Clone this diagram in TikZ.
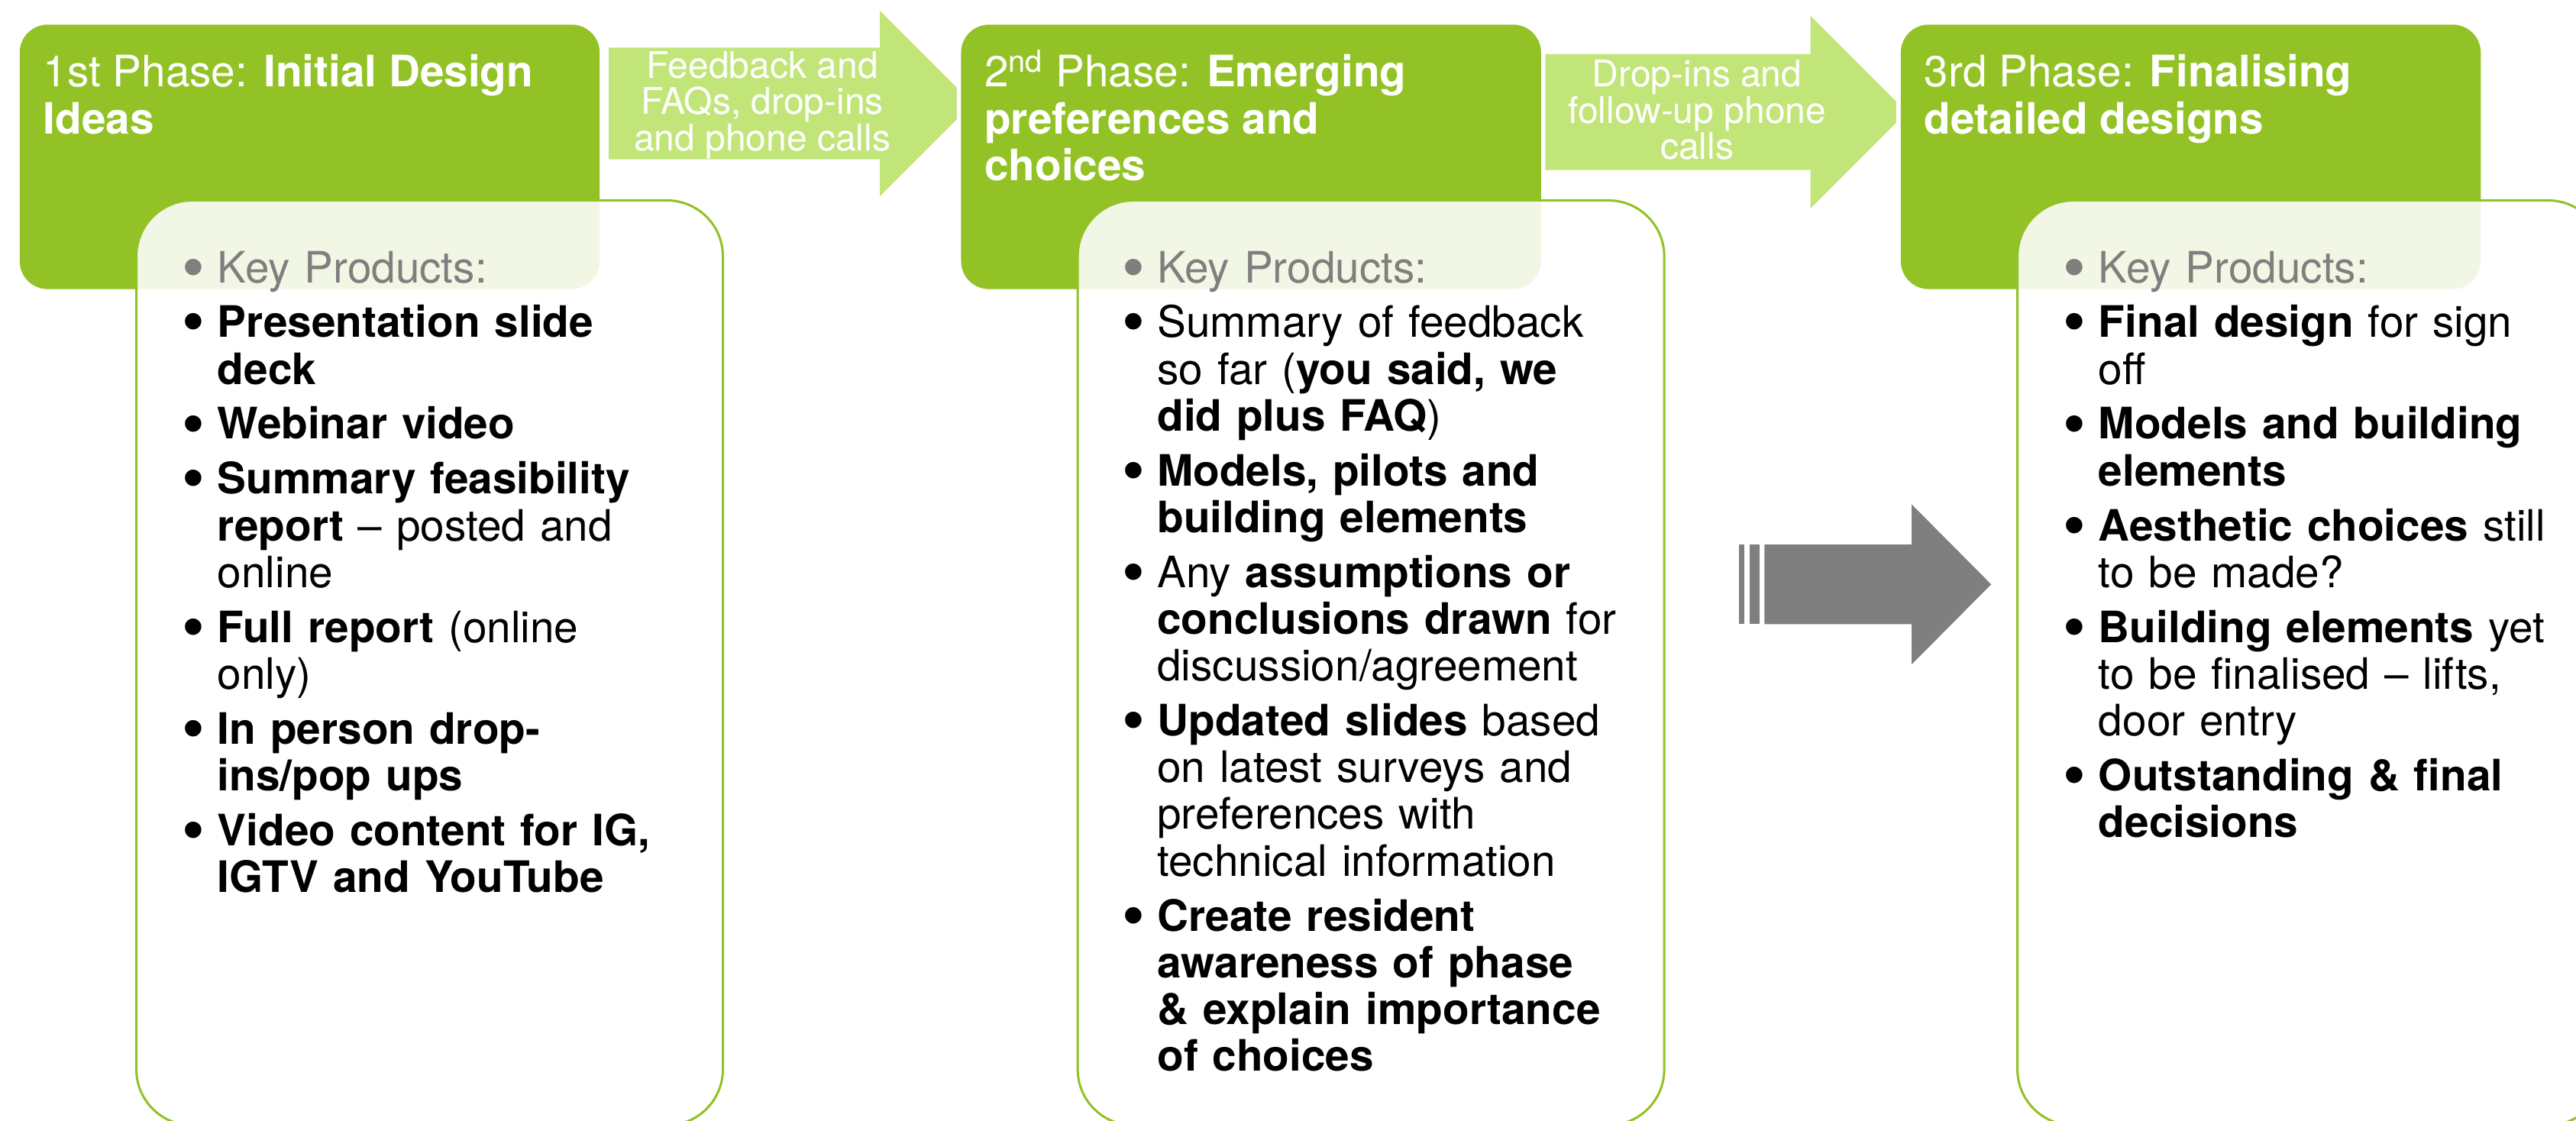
\documentclass[tikz,border=0pt]{standalone}
\usepackage{fontspec}
\setmainfont{TeX Gyre Heros}
\newfontfamily\bulletfont{Liberation Sans}
\usetikzlibrary{calc}
\definecolor{phasegreen}{RGB}{146,194,38}
\definecolor{linkgreen}{RGB}{194,229,122}
\definecolor{keygrey}{RGB}{127,127,127}
% light green link arrow: left, head base, top, bottom, head overhang
\newcommand{\createlink}[5]{\fill[linkgreen] (#1,#3) -- (#2,#3) -- (#2,{#3-#5}) -- ({#2+(#4-#3)/2+#5},{(#3+#4)/2}) -- (#2,{#4+#5}) -- (#2,#4) -- (#1,#4) -- cycle;}
% phase header and product box
\newcommand{\createphase}[1]{\path[preaction={draw=white,line width=3pt},fill=phasegreen,rounded corners=0.34cm] (#1,15) rectangle ({#1+353},176); \filldraw[fill=white,fill opacity=0.88,draw=phasegreen,line width=0.8pt,rounded corners=0.68cm] ({#1+71},122) rectangle ({#1+428},685);}
\newcommand{\itm}[2][black]{\hangindent=12pt\hangafter=1\noindent{\color{#1}\makebox[12pt][l]{\raisebox{-1.6pt}{\bulletfont\fontsize{21}{0}\selectfont\textbullet}}#2}\par}

\begin{document}
\begin{tikzpicture}[x=0.02cm,y=-0.02cm,
    phasetitle/.style={anchor=north west,inner sep=0pt,align=left,text=white,font=\fontsize{15}{16.2}\selectfont},
    producttext/.style={anchor=north west,inner sep=0pt,text width=8cm,align=left,font=\fontsize{15}{16.2}\selectfont,execute at begin node=\setlength{\parskip}{2.8pt}},
    linktext/.style={inner sep=0pt,align=center,text=white,font=\fontsize{12.7}{12.6}\selectfont}]
    \useasboundingbox (0,0) rectangle (1568,682);
    \fill[white] (0,0) rectangle (1568,682);
    \clip (0,0) rectangle (1568,682);
    %links
    \createlink{370.5}{535.6}{29}{97}{22.5}
    \createlink{940}{1102}{33}{103.5}{23.4}
    %phases
    \createphase{12}
    \createphase{585}
    \createphase{1157}
    %grey arrow
    \foreach \a/\b in {1058.6/1061.8, 1064.8/1071} {
        \fill[keygrey] (\a,331.5) rectangle (\b,380);}
    \fill[keygrey] (1074,331.5) -- (1163.6,331.5) -- (1163.6,307) -- (1212,355.75) -- (1163.6,404.5) -- (1163.6,380) -- (1074,380) -- cycle;

    \node[phasetitle] (t1) at (26,33) {1st Phase: \textbf{Initial Design}\\\textbf{Ideas}};
    \node[phasetitle] (t2) at (599,33) {2\smash{\textsuperscript{nd}} Phase: \textbf{Emerging}\\\textbf{preferences and}\\\textbf{choices}};
    \node[phasetitle] (t3) at (1171,33) {3rd Phase: \textbf{Finalising}\\\textbf{detailed designs}};

    \node[linktext] (l1) at (464,64) {Feedback and\\FAQs, drop-ins\\and phone calls};
    \node[linktext] (l2) at (1033,67) {Drop-ins and\\follow-up phone\\calls};

    \node[producttext] (p1) at (111,152.5) {%
        \itm[keygrey]{Key Products:}
        \itm{\textbf{Presentation slide\newline deck}}
        \itm{\textbf{Webinar video}}
        \itm{\textbf{Summary feasibility\newline report} -- posted and\newline online}
        \itm{\textbf{Full report} (online\newline only)}
        \itm{\textbf{In person drop-\newline ins/pop ups}}
        \itm{\textbf{Video content for IG,\newline IGTV and YouTube}}};
    \node[producttext] (p2) at (683,152.5) {%
        \itm[keygrey]{Key Products:}
        \itm{Summary of feedback\newline so far (\textbf{you said, we\newline did plus FAQ})}
        \itm{\textbf{Models, pilots and\newline building elements}}
        \itm{Any \textbf{assumptions or\newline conclusions drawn} for\newline discussion/agreement}
        \itm{\textbf{Updated slides} based\newline on latest surveys and\newline preferences with\newline technical information}
        \itm{\textbf{Create resident\newline awareness of phase\newline \& explain importance\newline of choices}}};
    \node[producttext] (p3) at (1256,152.5) {%
        \itm[keygrey]{Key Products:}
        \itm{\textbf{Final design} for sign\newline off}
        \itm{\textbf{Models and building\newline elements}}
        \itm{\textbf{Aesthetic choices} still\newline to be made?}
        \itm{\textbf{Building elements} yet\newline to be finalised -- lifts,\newline door entry}
        \itm{\textbf{Outstanding \& final\newline decisions}}};
\end{tikzpicture}
\end{document}
